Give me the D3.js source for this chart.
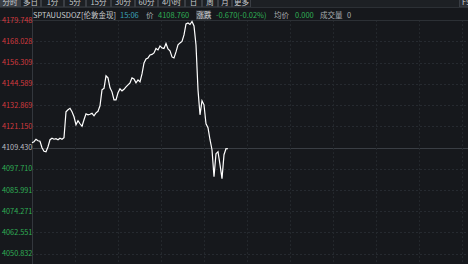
<!DOCTYPE html>
<html>
<head>
<meta charset="utf-8">
<script src="https://cdn.jsdelivr.net/npm/d3@7"></script>
<style>
  html, body { margin: 0; padding: 0; background: #16181c; overflow: hidden; }
  svg { display: block; }
  text { font-family: "Noto Sans CJK SC", "Noto Sans", sans-serif; }
</style>
</head>
<body>
<div id="chart"></div>
<script>
// chart data
var tabs = ["分时", "多日", "1分", "5分", "15分", "30分", "60分", "4小时", "日", "周", "月", "更多"];
var tickValues = [4179.748, 4168.028, 4156.309, 4144.589, 4132.869, 4121.150,
                  4109.430, 4097.710, 4085.991, 4074.271, 4062.551, 4050.832];
var prevClose = 4109.430;
var slots = 215; // minutes in the session
var prices = [
  4112.07, 4112.62, 4114.00, 4113.17, 4112.90, 4109.32, 4107.39, 4107.12, 4109.87, 4113.73,
  4114.55, 4114.00, 4114.28, 4113.73, 4114.55, 4114.00, 4114.83, 4129.14, 4130.25, 4131.07,
  4129.14, 4126.39, 4121.99, 4124.19, 4122.54, 4121.16, 4124.74, 4128.04, 4127.49, 4127.77,
  4128.32, 4126.94, 4128.59, 4129.42, 4132.45, 4141.26, 4142.09, 4148.97, 4147.87, 4142.36,
  4140.16, 4135.75, 4135.75, 4139.61, 4141.81, 4140.71, 4141.54, 4142.91, 4144.01, 4145.12,
  4147.87, 4147.32, 4145.12, 4146.77, 4145.67, 4150.07, 4156.13, 4158.33, 4158.88, 4160.54,
  4160.81, 4161.64, 4164.11, 4163.29, 4165.49, 4164.39, 4164.11, 4166.87, 4163.84, 4162.74,
  4159.43, 4158.88, 4162.19, 4166.04, 4167.14, 4167.97, 4171.55, 4177.61, 4178.16, 4177.33,
  4178.98, 4176.51, 4166.04, 4141.26, 4127.49, 4135.20, 4133.00, 4122.54, 4120.33, 4113.73,
  4108.22, 4093.35, 4106.02, 4107.12, 4099.96, 4092.25, 4105.46, 4108.77, 4108.76
];

var width = 468, height = 264;
var plot = { left: 32, right: 462, top: 20.1 };

var svg = d3.select("#chart")
    .append("svg")
    .attr("width", width)
    .attr("height", height);

svg.append("rect")
    .attr("width", width).attr("height", height)
    .attr("fill", "#16181c");

// scales
var x = d3.scaleLinear()
    .domain([0, slots])
    .range([plot.left, plot.right]);
var y = d3.scaleLinear()
    .domain([4050.832, 4179.748])
    .range([253.7, plot.top]);

// grid
var grid = svg.append("g");
grid.selectAll(".hgrid")
    .data(tickValues.slice(1))
    .enter().append("line")
    .attr("x1", plot.left).attr("x2", width)
    .attr("y1", function (d) { return Math.round(y(d)) + 0.5; })
    .attr("y2", function (d) { return Math.round(y(d)) + 0.5; })
    .attr("stroke", function (d) { return d == prevClose ? "#3a3e44" : "#262a30"; })
    .attr("stroke-dasharray", function (d) { return d == prevClose ? null : "2,2"; });

grid.selectAll(".vgrid")
    .data(d3.range(1, 11))
    .enter().append("line")
    .attr("x1", function (d) { return Math.round(x(d * slots / 10)) + 0.5; })
    .attr("x2", function (d) { return Math.round(x(d * slots / 10)) + 0.5; })
    .attr("y1", plot.top).attr("y2", height)
    .attr("stroke", "#24282d")
    .attr("stroke-dasharray", "2,2");

// top border and left axis line
svg.append("line")
    .attr("x1", 0).attr("x2", width)
    .attr("y1", 20.5).attr("y2", 20.5)
    .attr("stroke", "#2c3035");
svg.append("line")
    .attr("x1", plot.left + 0.5).attr("x2", plot.left + 0.5)
    .attr("y1", 8).attr("y2", height)
    .attr("stroke", "#33373d");

// y axis labels
svg.append("g")
    .selectAll("text")
    .data(tickValues)
    .enter().append("text")
    .attr("x", 2)
    .attr("y", function (d) { return y(d) + 2.6; })
    .attr("font-size", "7.3px")
    .attr("fill", function (d) {
        if (d > prevClose) return "#d23a3f";
        if (d < prevClose) return "#2fae55";
        return "#b9bcc0";
    })
    .text(function (d) { return d.toFixed(3); });

// price line
var line = d3.line()
    .x(function (d, i) { return x(i); })
    .y(function (d) { return y(d); });
svg.append("path")
    .datum(prices)
    .attr("d", line)
    .attr("fill", "none")
    .attr("stroke", "#ffffff")
    .attr("stroke-width", 1.2)
    .attr("stroke-linejoin", "miter");

// toolbar
var bar = svg.append("g");
bar.append("rect")
    .attr("x", 0).attr("y", -8).attr("width", width).attr("height", 15.5)
    .attr("fill", "#1d2024");
var tabX = [0, 20, 41, 64, 86, 111, 135, 158, 185, 202, 218, 232];
var tabW = [19, 20, 22, 21, 24, 23, 22, 26, 16, 15, 13, 18];
var tab = bar.selectAll(".tab")
    .data(tabs)
    .enter().append("g");
tab.append("rect")
    .attr("x", function (d, i) { return tabX[i] + 0.5; })
    .attr("y", -8)
    .attr("width", function (d, i) { return tabW[i]; })
    .attr("height", 15)
    .attr("fill", function (d, i) { return i == 0 ? "#3a3e44" : "#1d2024"; })
    .attr("stroke", "#3a3e44");
tab.append("text")
    .attr("x", function (d, i) { return tabX[i] + tabW[i] / 2 + 0.5; })
    .attr("y", 5)
    .attr("text-anchor", "middle")
    .attr("font-size", "7.5px")
    .attr("fill", "#c9cccf")
    .text(function (d) { return d; });
bar.append("rect")
    .attr("x", 459.5).attr("y", -8).attr("width", 12).attr("height", 15)
    .attr("fill", "#2a2d32").attr("stroke", "#3a3e44");
bar.append("text")
    .attr("x", 462).attr("y", 5)
    .attr("font-size", "7.5px").attr("fill", "#c9cccf")
    .text("F9");
svg.append("line")
    .attr("x1", 0).attr("x2", width)
    .attr("y1", 7.5).attr("y2", 7.5)
    .attr("stroke", "#2c3035");

// info row
svg.append("rect")
    .attr("x", 196).attr("y", 10.5).attr("width", 15).attr("height", 9)
    .attr("fill", "#3d4146");
var info = [
    { t: "SPTAUUSDOZ[伦敦金现]", x: 33, c: "#c9cccf" },
    { t: "15:06", x: 120, c: "#3aa2b8" },
    { t: "价", x: 146, c: "#a9acb0" },
    { t: "4108.760", x: 158, c: "#2fae55" },
    { t: "涨跌", x: 196.5, c: "#d0d2d4" },
    { t: "-0.670(-0.02%)", x: 216, c: "#2fae55" },
    { t: "均价", x: 274, c: "#a9acb0" },
    { t: "0.000", x: 295, c: "#2fae55" },
    { t: "成交量", x: 320, c: "#a9acb0" },
    { t: "0", x: 347, c: "#a9acb0" }
];
svg.append("g")
    .selectAll("text")
    .data(info)
    .enter().append("text")
    .attr("x", function (d) { return d.x; })
    .attr("y", 17.8)
    .attr("font-size", "7.5px")
    .attr("fill", function (d) { return d.c; })
    .text(function (d) { return d.t; });
</script>
</body>
</html>
